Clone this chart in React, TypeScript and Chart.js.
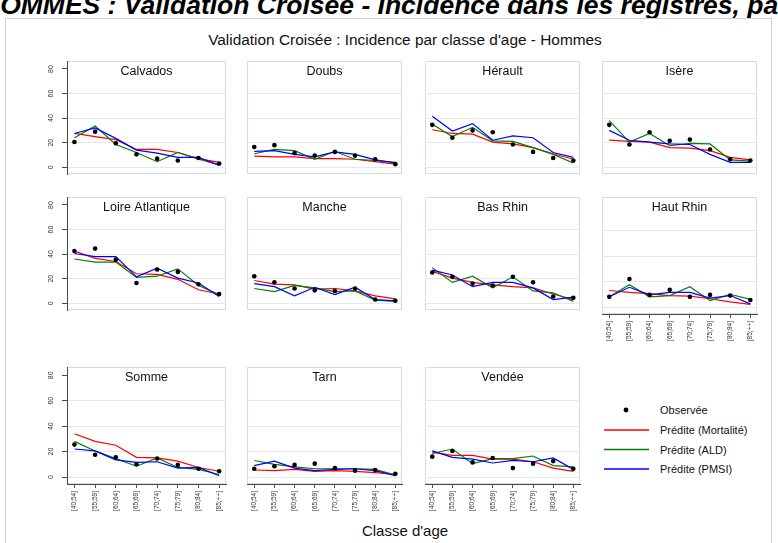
import React, { useEffect, useRef } from 'react';
import { Chart, registerables } from 'chart.js';

Chart.register(...registerables);

// Age classes on the x axis
const ageClasses = ['[40;54]', '[55;59]', '[60;64]', '[65;69]', '[70;74]', '[75;79]', '[80;84]', '[85;++]'];
const yTickValues = [0, 20, 40, 60, 80];

// Incidence per department: observed and three predicted series
const calvadosObs = [20.5, 29, 19.5, 10.5, 7, 5.5, 7.5, 3];
const calvadosMort = [27.5, 25, 22.5, 14.5, 14.5, 12, 7, 4];
const calvadosAld = [24, 33.5, 18.5, 12, 4.5, 12, 6.5, 2];
const calvadosPmsi = [27.5, 32, 23.5, 14, 11.5, 8, 8, 1.5];

const doubsObs = [16.5, 18, 11.5, 9.5, 12.5, 9.5, 6.5, 2.5];
const doubsMort = [9, 8.5, 8.5, 7, 7, 6.5, 4.5, 2.5];
const doubsAld = [11, 14.5, 13.5, 6.5, 13, 6.5, 5.5, 4];
const doubsPmsi = [13, 13.5, 10.5, 8.5, 12.5, 10.5, 6, 3.5];

const heraultObs = [34.5, 24, 30, 28.5, 18.5, 12.5, 7.5, 5.5];
const heraultMort = [30.5, 27.5, 27, 20.5, 19, 16, 11, 6.5];
const heraultAld = [35, 25, 32.5, 21.5, 21, 16, 10.5, 3.5];
const heraultPmsi = [41.5, 29.5, 35.5, 22, 25.5, 24, 12, 8];

const isereObs = [34.5, 18.5, 28.5, 21.5, 22.5, 14.5, 6.5, 5.5];
const isereMort = [22, 21, 20.5, 16, 15.5, 13.5, 8, 6];
const isereAld = [38, 20.5, 27.5, 17.5, 19.5, 19, 6, 5];
const iserePmsi = [30, 22, 20.5, 19, 18.5, 10.5, 4, 4];

const loireObs = [42.5, 44.5, 35.5, 16.5, 27.5, 25.5, 15.5, 7.5];
const loireMort = [42.5, 36.5, 34, 24, 23.5, 19.5, 11, 7.5];
const loireAld = [36, 33.5, 33.5, 21, 22, 28, 14.5, 7];
const loirePmsi = [40.5, 38, 38, 21.5, 28.5, 20.5, 16.5, 5.5];

const mancheObs = [22, 17, 12, 10.5, 10, 12, 3, 2];
const mancheMort = [18.5, 15.5, 15, 11.5, 12, 10, 6, 3.5];
const mancheAld = [12, 9.5, 14.5, 12.5, 9.5, 10, 2.5, 1.5];
const manchePmsi = [16, 13.5, 6, 13, 7, 13, 3, 2];

const basRhinObs = [25, 21.5, 16, 14.5, 21.5, 17, 5.5, 4.5];
const basRhinMort = [26, 20.5, 17, 15, 13.5, 12.5, 7.5, 3];
const basRhinAld = [29, 17, 22, 12.5, 21.5, 10, 8.5, 1.5];
const basRhinPmsi = [27, 23, 13.5, 17, 17, 12.5, 3, 5];

const hautRhinObs = [8, 22, 9.5, 13.5, 8, 9.5, 9, 5.5];
const hautRhinMort = [13, 11.5, 10.5, 9, 8.5, 6.5, 4, 2];
const hautRhinAld = [8, 17.5, 8, 9, 16, 5, 10, 6];
const hautRhinPmsi = [8, 15.5, 9.5, 11.5, 11.5, 7, 9, 2.5];

const sommeObs = [25.5, 17.5, 15.5, 10, 14.5, 9.5, 6.5, 4.5];
const sommeMort = [34, 28, 25, 15.5, 15, 12.5, 7.5, 4.5];
const sommeAld = [28, 20.5, 14.5, 8.5, 15, 7.5, 6, 2];
const sommePmsi = [22, 20.5, 13.5, 11.5, 12, 7, 7.5, 1];

const tarnObs = [6.5, 8.5, 9.5, 10.5, 7, 5, 5.5, 2.5];
const tarnMort = [5.5, 5, 6, 4.5, 5, 4.5, 3.5, 2];
const tarnAld = [13, 10, 8, 6.5, 6.5, 6.5, 6, 1.5];
const tarnPmsi = [9, 12.5, 7, 5, 6, 6.5, 5, 1];

const vendeeObs = [16, 20.5, 11.5, 15, 7, 10.5, 12.5, 6.5];
const vendeeMort = [19.5, 17, 17, 14, 14, 12, 7, 4.5];
const vendeeAld = [18.5, 22, 10.5, 14.5, 14.5, 16.5, 9, 8];
const vendeePmsi = [20.5, 15.5, 14, 11, 13, 12, 15, 6];

type PanelDef = {
  name: string;
  obs: number[];
  mort: number[];
  ald: number[];
  pmsi: number[];
  col: number;
  row: number;
  bottom: boolean;
};

const panels: PanelDef[] = [
  { name: 'Calvados', obs: calvadosObs, mort: calvadosMort, ald: calvadosAld, pmsi: calvadosPmsi, col: 0, row: 0, bottom: false },
  { name: 'Doubs', obs: doubsObs, mort: doubsMort, ald: doubsAld, pmsi: doubsPmsi, col: 1, row: 0, bottom: false },
  { name: 'Hérault', obs: heraultObs, mort: heraultMort, ald: heraultAld, pmsi: heraultPmsi, col: 2, row: 0, bottom: false },
  { name: 'Isère', obs: isereObs, mort: isereMort, ald: isereAld, pmsi: iserePmsi, col: 3, row: 0, bottom: false },
  { name: 'Loire Atlantique', obs: loireObs, mort: loireMort, ald: loireAld, pmsi: loirePmsi, col: 0, row: 1, bottom: false },
  { name: 'Manche', obs: mancheObs, mort: mancheMort, ald: mancheAld, pmsi: manchePmsi, col: 1, row: 1, bottom: false },
  { name: 'Bas Rhin', obs: basRhinObs, mort: basRhinMort, ald: basRhinAld, pmsi: basRhinPmsi, col: 2, row: 1, bottom: false },
  { name: 'Haut Rhin', obs: hautRhinObs, mort: hautRhinMort, ald: hautRhinAld, pmsi: hautRhinPmsi, col: 3, row: 1, bottom: true },
  { name: 'Somme', obs: sommeObs, mort: sommeMort, ald: sommeAld, pmsi: sommePmsi, col: 0, row: 2, bottom: true },
  { name: 'Tarn', obs: tarnObs, mort: tarnMort, ald: tarnAld, pmsi: tarnPmsi, col: 1, row: 2, bottom: true },
  { name: 'Vendée', obs: vendeeObs, mort: vendeeMort, ald: vendeeAld, pmsi: vendeePmsi, col: 2, row: 2, bottom: true },
];

const FONT = '"Liberation Sans", Arial, Helvetica, sans-serif';
const RED = 'rgb(255,0,0)';
const GREEN = 'rgb(0,128,0)';
const BLUE = 'rgb(0,0,255)';
const AXIS = '#4a4a4a';
const GRID = '#e3e8ed';
const FRAME = '#d3dde6';

const PLOT_W = 163;
const PLOT_H = 121;
const colLeft = [67, 243, 421, 598];
const rowTop = [57, 193, 363];
const Y_AXIS_W = 27;
const X_AXIS_H = 36;

const toPoints = (vals: number[]) => vals.map((v, i) => ({ x: i, y: v }));

const panelPlugin = {
  id: 'panelDecor',
  beforeDraw(chart: any) {
    const { ctx, chartArea } = chart;
    const o = chart.options.plugins.panelDecor;
    ctx.save();
    ctx.strokeStyle = FRAME;
    ctx.lineWidth = 1;
    ctx.strokeRect(
      Math.round(chartArea.left) + 0.5,
      Math.round(chartArea.top) + 0.5,
      Math.round(chartArea.right - chartArea.left) - 1,
      Math.round(chartArea.bottom - chartArea.top) - 1
    );
    ctx.fillStyle = '#111';
    ctx.font = `12.5px ${FONT}`;
    ctx.textAlign = 'center';
    ctx.textBaseline = 'middle';
    ctx.fillText(o.title, (chartArea.left + chartArea.right) / 2, chartArea.top + 10.5);
    ctx.restore();
  },
  afterDraw(chart: any) {
    const { ctx, chartArea } = chart;
    const o = chart.options.plugins.panelDecor;
    ctx.save();
    ctx.fillStyle = '#333';
    if (o.showY) {
      const ys = chart.scales.y;
      ctx.font = `7px ${FONT}`;
      ctx.textAlign = 'center';
      ctx.textBaseline = 'middle';
      yTickValues.forEach((v) => {
        const py = ys.getPixelForValue(v);
        ctx.save();
        ctx.translate(chartArea.left - 16, py);
        ctx.rotate(-Math.PI / 2);
        ctx.fillText(String(v), 0, 0);
        ctx.restore();
      });
    }
    if (o.showX) {
      const xs = chart.scales.x;
      ctx.font = `6.5px ${FONT}`;
      ctx.textAlign = 'right';
      ctx.textBaseline = 'middle';
      ageClasses.forEach((lab, i) => {
        const px = xs.getPixelForValue(i);
        ctx.save();
        ctx.translate(px, chartArea.bottom + 7);
        ctx.rotate(-Math.PI / 2);
        ctx.fillText(lab, 0, 0);
        ctx.restore();
      });
    }
    ctx.restore();
  },
};

function Panel({ p }: { p: PanelDef }) {
  const ref = useRef<HTMLCanvasElement>(null);
  const showY = p.col === 0;
  const showX = p.bottom;
  const w = PLOT_W + (showY ? Y_AXIS_W : 0);
  const h = PLOT_H + (showX ? X_AXIS_H : 0);
  const left = colLeft[p.col] - (showY ? Y_AXIS_W : 0);
  const top = rowTop[p.row];

  useEffect(() => {
    if (!ref.current) return;
    const lineDs = (label: string, vals: number[], color: string, order: number) => ({
      label,
      data: toPoints(vals),
      borderColor: color,
      backgroundColor: color,
      borderWidth: 1.2,
      pointRadius: 0,
      tension: 0,
      fill: false,
      order,
    });
    const chart = new Chart(ref.current, {
      type: 'line',
      data: {
        datasets: [
          {
            label: 'Observée',
            data: toPoints(p.obs),
            showLine: false,
            pointRadius: 2.3,
            pointBorderWidth: 0,
            pointBackgroundColor: '#000',
            borderColor: '#000',
            order: 0,
          },
          lineDs('Prédite (Mortalité)', p.mort, RED, 3),
          lineDs('Prédite (ALD)', p.ald, GREEN, 2),
          lineDs('Prédite (PMSI)', p.pmsi, BLUE, 1),
        ],
      },
      options: {
        animation: false,
        responsive: false,
        maintainAspectRatio: false,
        devicePixelRatio: 1,
        layout: { padding: 0 },
        events: [],
        plugins: {
          legend: { display: false },
          tooltip: { enabled: false },
          panelDecor: { title: p.name, showX, showY },
        } as any,
        scales: {
          x: {
            type: 'linear',
            display: showX,
            min: -0.36,
            max: 7.33,
            afterBuildTicks: (ax: any) => {
              ax.ticks = ageClasses.map((_, i) => ({ value: i }));
            },
            afterFit: (s: any) => {
              s.height = showX ? X_AXIS_H : 0;
            },
            grid: {
              display: true,
              drawOnChartArea: false,
              drawTicks: true,
              tickLength: 4,
              tickColor: AXIS,
            },
            border: { display: true, color: AXIS, width: 1 },
            ticks: { display: false },
          },
          y: {
            type: 'linear',
            min: -5.5,
            max: 86.5,
            afterBuildTicks: (ax: any) => {
              ax.ticks = yTickValues.map((v) => ({ value: v }));
            },
            afterFit: (s: any) => {
              s.width = showY ? Y_AXIS_W : 0;
            },
            grid: {
              color: (c: any) => (c.tick && c.tick.value === 80 ? 'rgba(0,0,0,0)' : GRID),
              lineWidth: 1,
              drawTicks: showY,
              tickLength: 5,
              tickColor: AXIS,
            },
            border: { display: showY, color: AXIS, width: 1 },
            ticks: { display: false },
          },
        },
      },
      plugins: [panelPlugin],
    } as any);
    return () => chart.destroy();
  }, []);

  return (
    <canvas
      ref={ref}
      width={w}
      height={h}
      style={{ position: 'absolute', left, top, width: w, height: h }}
    />
  );
}

const legendItems = [
  { label: 'Observée', kind: 'dot', color: '#000' },
  { label: 'Prédite (Mortalité)', kind: 'line', color: RED },
  { label: 'Prédite (ALD)', kind: 'line', color: GREEN },
  { label: 'Prédite (PMSI)', kind: 'line', color: BLUE },
];
const legendRowY = [410, 430, 449.5, 469];

export default function App() {
  return (
    <div
      style={{
        position: 'fixed',
        left: 0,
        top: 0,
        width: 778,
        height: 543,
        overflow: 'hidden',
        background: '#fff',
        fontFamily: FONT,
      }}
    >
      <div
        style={{
          position: 'absolute',
          left: -19,
          top: -8.5,
          whiteSpace: 'nowrap',
          fontSize: 26.5,
          lineHeight: '26.5px',
          fontWeight: 'bold',
          fontStyle: 'italic',
          color: '#000',
        }}
      >
        HOMMES : Validation Croisée - Incidence dans les registres, par département
      </div>
      <div
        style={{
          position: 'absolute',
          left: 5,
          top: 18,
          width: 767,
          height: 540,
          border: '1px solid #cfcfcf',
          boxSizing: 'border-box',
        }}
      />
      <div
        style={{
          position: 'absolute',
          left: 0,
          width: 810,
          top: 31,
          textAlign: 'center',
          fontSize: 15.4,
          lineHeight: '18px',
          color: '#111',
        }}
      >
        Validation Croisée : Incidence par classe d'age - Hommes
      </div>
      {panels.map((p) => (
        <Panel key={p.name} p={p} />
      ))}
      <svg
        width={60}
        height={80}
        style={{ position: 'absolute', left: 600, top: 400 }}
      >
        {legendItems.map((it, i) =>
          it.kind === 'dot' ? (
            <circle key={it.label} cx={26} cy={legendRowY[i] - 400} r={2.4} fill={it.color} />
          ) : (
            <line
              key={it.label}
              x1={4}
              x2={49}
              y1={legendRowY[i] - 400}
              y2={legendRowY[i] - 400}
              stroke={it.color}
              strokeWidth={1.3}
            />
          )
        )}
      </svg>
      {legendItems.map((it, i) => (
        <div
          key={it.label}
          style={{
            position: 'absolute',
            left: 660,
            top: legendRowY[i] - 7,
            fontSize: 11,
            lineHeight: '14px',
            color: '#111',
            whiteSpace: 'nowrap',
          }}
        >
          {it.label}
        </div>
      ))}
      <div
        style={{
          position: 'absolute',
          left: 0,
          width: 810,
          top: 522,
          textAlign: 'center',
          fontSize: 15,
          lineHeight: '18px',
          color: '#111',
        }}
      >
        Classe d'age
      </div>
    </div>
  );
}
